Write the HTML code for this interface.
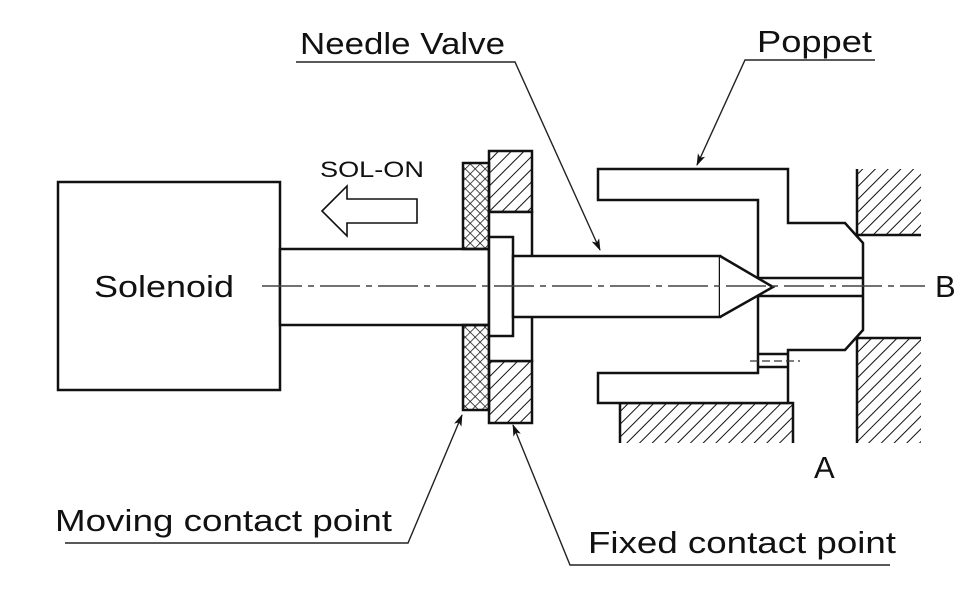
<!DOCTYPE html>
<html><head><style>body{margin:0;background:#fff}svg{display:block}</style></head>
<body>
<svg width="975" height="591" viewBox="0 0 975 591" xmlns="http://www.w3.org/2000/svg" font-family="Liberation Sans, sans-serif">
<defs>
<pattern id="h" patternUnits="userSpaceOnUse" width="9" height="9" patternTransform="rotate(45)">
<line x1="0" y1="0" x2="0" y2="9" stroke="#111" stroke-width="2"/>
</pattern>
<pattern id="x" patternUnits="userSpaceOnUse" width="7" height="7" patternTransform="rotate(45)">
<line x1="0" y1="0" x2="0" y2="7" stroke="#111" stroke-width="1.5"/>
<line x1="0" y1="0" x2="7" y2="0" stroke="#111" stroke-width="1.5"/>
</pattern>
<marker id="ar" markerWidth="12" markerHeight="8" refX="11" refY="4" orient="auto" markerUnits="userSpaceOnUse">
<path d="M0,0 L12,4 L0,8 L3,4 z" fill="#111"/>
</marker>
</defs>
<g fill="none" stroke="#111" stroke-width="2.5">
<rect x="58" y="182" width="222" height="208" fill="#fff"/>
<rect x="280" y="249" width="209" height="76" fill="#fff"/>
<rect x="463" y="163" width="26" height="86" fill="url(#x)"/>
<rect x="463" y="325" width="26" height="85" fill="url(#x)"/>
<rect x="489" y="151" width="43" height="61" fill="url(#h)"/>
<rect x="489" y="361" width="43" height="62" fill="url(#h)"/>
<rect x="489" y="212" width="43" height="149" fill="#fff"/>
<rect x="489" y="237" width="24" height="99" fill="#fff"/>
<rect x="620" y="403" width="173" height="40" fill="url(#h)" stroke="none"/>
<path d="M620,443 L620,403 L793,403 L793,443"/>
<rect x="857" y="169" width="64" height="66" fill="url(#h)" stroke="none"/>
<path d="M857,169 L857,235 L921,235"/>
<rect x="857" y="338" width="64" height="105" fill="url(#h)" stroke="none"/>
<path d="M921,338 L857,338 L857,443"/>
<path d="M598,169 L788,169 L788,223 L845,223 L863,243 L863,330 L845,350 L788,350 L788,403 L598,403 L598,373 L758,373 L758,200 L598,200 Z" fill="#fff"/>
<path d="M758,278 L863,278 M758,296 L863,296"/>
<path d="M758,354 L788,354 M758,367 L788,367"/>
<rect x="513" y="256" width="207" height="61" fill="#fff"/>
<path d="M720,256 L773,287 L720,317" fill="#fff"/>
<path d="M322,211 L347,186 L347,199 L417,199 L417,223 L347,223 L347,236 Z" stroke-width="1.6" fill="#fff"/>
</g>
<path d="M750,361 L800,361" stroke="#333" stroke-width="1.2" stroke-dasharray="8,4"/>
<path d="M262,286 L925,286" stroke="#444" stroke-width="1.4" stroke-dasharray="40,6,6,6"/>
<g fill="none" stroke="#222" stroke-width="1.4">
<path d="M296,62 L515,62 L600,250" marker-end="url(#ar)"/>
<path d="M875,60 L745,60 L697,165" marker-end="url(#ar)"/>
<path d="M65,543 L408,543 L462,415" marker-end="url(#ar)"/>
<path d="M890,565 L570,565 L513,425" marker-end="url(#ar)"/>
</g>
<g fill="#111">
<text x="300" y="54" font-size="31" textLength="205" lengthAdjust="spacingAndGlyphs">Needle Valve</text>
<text x="757" y="52" font-size="31" textLength="115" lengthAdjust="spacingAndGlyphs">Poppet</text>
<text x="320" y="177" font-size="22" textLength="104" lengthAdjust="spacingAndGlyphs">SOL-ON</text>
<text x="94" y="297" font-size="31" textLength="140" lengthAdjust="spacingAndGlyphs">Solenoid</text>
<text x="935" y="297" font-size="31">B</text>
<text x="814" y="478" font-size="31">A</text>
<text x="55" y="531" font-size="31" textLength="337" lengthAdjust="spacingAndGlyphs">Moving contact point</text>
<text x="588" y="553" font-size="31" textLength="308" lengthAdjust="spacingAndGlyphs">Fixed contact point</text>
</g>
</svg>
</body></html>
